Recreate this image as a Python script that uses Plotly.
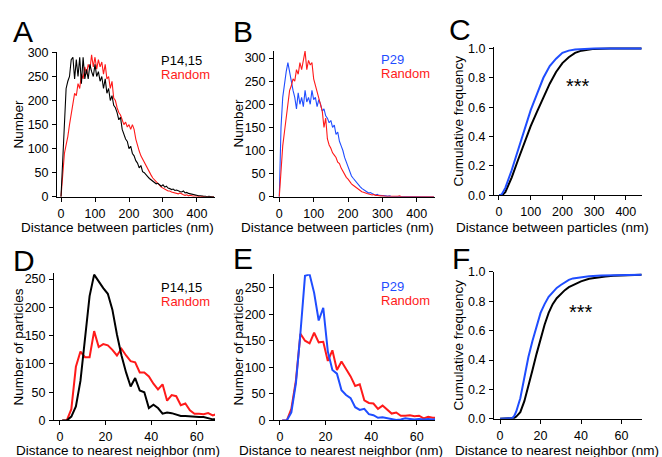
import plotly.graph_objects as go

W, H = 662, 457          # reference picture size (layout coordinates below are in these pixels)
FIG_H = 465              # rendered height; the capture maps it onto 457 px
FONT = "Liberation Sans, Arial, Helvetica, sans-serif"
BLACK = "#000000"
RED = "#ff1a1a"
BLUE = "#1f4dff"

# ---------------- data ----------------
dist_bins = list(range(0, 455, 5))          # nm, panels A/B
nn_bins = list(range(1, 70, 2))             # nm, panels D/E

a_p1415 = [0, 80, 170, 225, 240, 250, 285, 290, 245, 285, 250, 290, 235, 290, 245, 265, 245, 275, 260, 250,
           275, 250, 260, 240, 250, 225, 245, 215, 225, 200, 210, 190, 185, 175, 160, 165, 140, 130, 120, 115,
           100, 105, 90, 85, 75, 70, 60, 65, 52, 50, 45, 42, 38, 35, 32, 30, 27, 28, 25, 22,
           25, 20, 22, 18, 17, 15, 16, 13, 14, 12, 11, 10, 12, 8, 9, 7, 6, 5, 4, 3,
           3, 2, 2, 1, 1, 1, 0, 1, 0, 0, 0]
a_random = [0, 40, 90, 108, 125, 150, 175, 200, 215, 210, 235, 225, 255, 245, 270, 255, 275, 265, 295, 270,
            290, 265, 285, 270, 280, 255, 275, 245, 250, 225, 240, 205, 200, 185, 175, 170, 160, 150, 155, 145,
            150, 140, 150, 140, 120, 105, 95, 85, 78, 70, 66, 58, 52, 45, 39, 35, 32, 27, 25, 20,
            18, 15, 14, 12, 12, 10, 9, 8, 7, 6, 8, 5, 4, 3, 4, 2, 3, 2, 1, 2,
            1, 1, 0, 1, 0, 0, 0, 0, 0, 0, 0]

b_p29 = [0, 150, 215, 250, 270, 290, 265, 250, 230, 215, 190, 225, 200, 215, 195, 230, 205, 215, 200, 230,
         210, 215, 195, 210, 200, 185, 190, 175, 170, 160, 165, 150, 155, 135, 140, 120, 110, 100, 85, 75,
         65, 55, 45, 40, 35, 30, 25, 22, 18, 15, 12, 10, 8, 9, 6, 5, 4, 5, 3, 3,
         2, 3, 2, 1, 2, 1, 1, 0, 1, 0, 1, 0, 0, 1, 0, 0, 0, 1, 0, 0,
         0, 0, 0, 0, 0, 0, 0, 0, 0, 0, 0]
b_random = [0, 60, 110, 140, 175, 200, 230, 240, 255, 250, 275, 265, 290, 275, 300, 315, 275, 295, 285, 290,
            255, 240, 225, 215, 195, 185, 150, 170, 125, 112, 105, 95, 90, 85, 75, 72, 62, 55, 50, 42,
            38, 32, 28, 25, 22, 18, 15, 13, 11, 10, 8, 7, 6, 5, 4, 5, 3, 3, 2, 2,
            2, 1, 1, 1, 1, 0, 1, 0, 0, 1, 2, 0, 0, 0, 1, 0, 0, 0, 0, 0,
            0, 0, 0, 0, 0, 0, 0, 0, 0, 0, 0]

c_x_p1415 = [0, 10, 20, 40, 60, 80, 100, 120, 140, 160, 180, 200, 220, 240, 260, 280, 300, 350, 400, 450]
c_p1415 = [0, 0, 0.02, 0.12, 0.24, 0.36, 0.47, 0.57, 0.67, 0.76, 0.84, 0.90, 0.94, 0.97, 0.985, 0.993, 0.997, 1.0, 1.0, 1.0]
c_x_p29 = [0, 5, 10, 20, 40, 60, 80, 100, 120, 140, 160, 180, 200, 220, 240, 260, 300, 350, 400, 450]
c_p29 = [0, 0, 0.01, 0.05, 0.17, 0.31, 0.45, 0.58, 0.69, 0.80, 0.88, 0.93, 0.97, 0.985, 0.993, 0.997, 1.0, 1.0, 1.0, 1.0]

d_p1415 = [0, 0, 7, 25, 70, 150, 220, 258, 245, 234, 224, 196, 152, 115, 85, 60, 75, 53, 50, 22,
           28, 22, 12, 14, 13, 10, 8, 8, 7, 7, 6, 6, 4, 2, 2]
d_random = [0, 0, 20, 95, 122, 112, 112, 158, 130, 135, 133, 125, 115, 127, 115, 105, 103, 85, 85, 78,
            65, 55, 64, 35, 45, 43, 27, 30, 18, 12, 12, 11, 13, 9, 12]

e_p29 = [0, 0, 15, 70, 165, 272, 275, 240, 188, 212, 130, 95, 88, 57, 48, 42, 25, 20, 22, 12,
         10, 5, 6, 4, 2, 1, 2, 4, 3, 2, 3, 2, 3, 2, 3]
e_random = [0, 0, 22, 75, 163, 150, 145, 165, 147, 148, 112, 132, 95, 111, 97, 83, 65, 68, 38, 33,
            32, 22, 28, 20, 13, 15, 9, 9, 10, 8, 9, 4, 7, 5, 5]

f_x_p1415 = [0, 5, 7, 8, 10, 12, 14, 16, 18, 20, 22, 24, 26, 28, 30, 32, 34, 36, 38, 40, 44, 48, 52, 56, 60, 65, 70]
f_p1415 = [0, 0, 0.005, 0.015, 0.045, 0.12, 0.22, 0.33, 0.44, 0.54, 0.64, 0.72, 0.78, 0.82, 0.85, 0.875, 0.895,
           0.91, 0.925, 0.935, 0.952, 0.962, 0.968, 0.973, 0.976, 0.978, 0.98]
f_x_p29 = [0, 5, 6, 7, 8, 10, 12, 14, 16, 18, 20, 22, 24, 26, 28, 30, 32, 34, 36, 40, 44, 50, 60, 70]
f_p29 = [0, 0, 0.005, 0.02, 0.05, 0.14, 0.29, 0.42, 0.53, 0.63, 0.72, 0.78, 0.83, 0.86, 0.89, 0.91, 0.93,
         0.945, 0.955, 0.965, 0.97, 0.974, 0.977, 0.98]

# ---------------- geometry helpers (reference pixels -> paper fractions) ----------------
def px(x):
    return x / W

def py(y):
    return 1 - y / H

fig = go.Figure()

panels = [
    ("", (57, 215), (192.3, 46), (-11.8, 453), (0, 300), [0, 100, 200, 300, 400], [0, 50, 100, 150, 200, 250, 300], None),
    ("2", (274, 435), (192.3, 44.3), (-15.4, 453), (0, 315.8), [0, 100, 200, 300, 400], [0, 50, 100, 150, 200, 250, 300], None),
    ("3", (494, 641.7), (190.7, 40.5), (-15.7, 450), (0, 1.01), [0, 100, 200, 300, 400], [0, 0.2, 0.4, 0.6, 0.8, 1.0], ["0.0", "0.2", "0.4", "0.6", "0.8", "1.0"]),
    ("4", (54, 215), (419, 270), (-2.6, 68), (0, 260), [0, 20, 40, 60], [0, 50, 100, 150, 200, 250], None),
    ("5", (274, 435), (419, 270.7), (-2.6, 68), (0, 275.2), [0, 20, 40, 60], [0, 50, 100, 150, 200, 250], None),
    ("6", (494, 641.7), (417.3, 268.3), (-3, 70), (0, 1.0), [0, 20, 40, 60], [0, 0.2, 0.4, 0.6, 0.8, 1.0], ["0.0", "0.2", "0.4", "0.6", "0.8", "1.0"]),
]

axis_common = dict(
    showline=True, linecolor=BLACK, linewidth=1, mirror=False,
    ticks="outside", ticklen=4, tickwidth=1, tickcolor=BLACK,
    showgrid=False, zeroline=False, fixedrange=True,
    tickfont=dict(family=FONT, size=12.5, color=BLACK),
)

layout_axes = {}
for name, xd, yd, xr, yr, xt, yt, ytt in panels:
    xa = dict(axis_common, domain=[px(xd[0]), px(xd[1])], range=list(xr), tickvals=xt,
              anchor="y" + name, ticklabelstandoff=1)
    ya = dict(axis_common, domain=[py(yd[0]), py(yd[1])], range=list(yr), tickvals=yt,
              anchor="x" + name, ticklabelstandoff=1)
    if ytt:
        ya["ticktext"] = ytt
    layout_axes["xaxis" + name] = xa
    layout_axes["yaxis" + name] = ya

def add_line(x, y, color, width, ax):
    fig.add_trace(go.Scatter(x=x, y=y, mode="lines", line=dict(color=color, width=width),
                             xaxis="x" + ax, yaxis="y" + ax, showlegend=False, hoverinfo="skip"))

add_line(dist_bins, a_random, RED, 1.1, "")
add_line(dist_bins, a_p1415, BLACK, 1.1, "")
add_line(dist_bins, b_p29, BLUE, 1.1, "2")
add_line(dist_bins, b_random, RED, 1.1, "2")
add_line(c_x_p1415, c_p1415, BLACK, 2, "3")
add_line(c_x_p29, c_p29, BLUE, 2, "3")
add_line(nn_bins, d_random, RED, 2, "4")
add_line(nn_bins, d_p1415, BLACK, 2, "4")
add_line(nn_bins, e_random, RED, 2, "5")
add_line(nn_bins, e_p29, BLUE, 2, "5")
add_line(f_x_p1415, f_p1415, BLACK, 2, "6")
add_line(f_x_p29, f_p29, BLUE, 2, "6")

ann = []

def text(x, y, s, size=13, color=BLACK, xanchor="left", yanchor="middle", angle=0):
    ann.append(dict(x=px(x), y=py(y), xref="paper", yref="paper", text=s, showarrow=False,
                    xanchor=xanchor, yanchor=yanchor, textangle=angle,
                    font=dict(family=FONT, size=size, color=color)))

for letter, x, y in [("A", 11, 25), ("B", 231, 25), ("C", 447, 23), ("D", 11, 257), ("E", 231, 255), ("F", 450, 255)]:
    text(x, y, letter, size=30)

text(159, 54, "P14,15", 13, BLACK)
text(159, 68, "Random", 13, RED)
text(379, 53, "P29", 13, BLUE)
text(379, 67, "Random", 13, RED)
text(159, 284, "P14,15", 13, BLACK)
text(159, 298, "Random", 13, RED)
text(379, 283, "P29", 13, BLUE)
text(379, 297, "Random", 13, RED)

text(578, 80, "***", 20, BLACK, xanchor="center")
text(581, 309, "***", 20, BLACK, xanchor="center")

text(18, 119, "Number", 13.5, xanchor="center", angle=-90)
text(238, 118, "Number", 13.5, xanchor="center", angle=-90)
text(458, 116, "Cumulative frequency", 13.5, xanchor="center", angle=-90)
text(18, 345, "Number of particles", 13.5, xanchor="center", angle=-90)
text(238, 345, "Number of particles", 13.5, xanchor="center", angle=-90)
text(458, 343, "Cumulative frequency", 13.5, xanchor="center", angle=-90)

text(118, 223, "Distance between particles (nm)", 13.5, xanchor="center")
text(337, 223, "Distance between particles (nm)", 13.5, xanchor="center")
text(552, 223, "Distance between particles (nm)", 13.5, xanchor="center")
text(118, 449, "Distance to nearest neighbor (nm)", 13.5, xanchor="center")
text(341, 449, "Distance to nearest neighbor (nm)", 13.5, xanchor="center")
text(557, 449, "Distance to nearest neighbor (nm)", 13.5, xanchor="center")

fig.update_layout(
    width=W, height=FIG_H, autosize=False,
    margin=dict(l=0, r=0, t=0, b=0, pad=0),
    paper_bgcolor="white", plot_bgcolor="white",
    font=dict(family=FONT, size=13, color=BLACK),
    showlegend=False,
    annotations=ann,
    **layout_axes,
)

PAGE_FIX = (
    "var s=document.createElement('style');"
    "s.innerHTML='html,body{margin:0!important;padding:0!important;overflow:hidden!important;}';"
    "document.head.appendChild(s);"
)

fig.write_html("out.html", config={"displayModeBar": False, "staticPlot": True},
               post_script=PAGE_FIX)
